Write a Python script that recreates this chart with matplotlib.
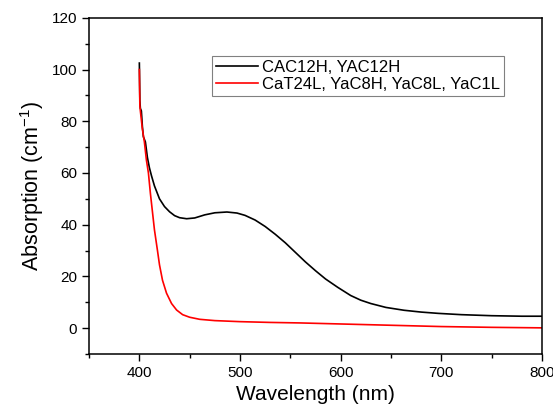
import matplotlib
matplotlib.use('Agg')
import matplotlib.pyplot as plt
from matplotlib.ticker import MultipleLocator

plt.rcParams['font.family'] = ['Liberation Sans', 'DejaVu Sans']
plt.rcParams['mathtext.fontset'] = 'custom'
plt.rcParams['mathtext.rm'] = 'Liberation Sans'
plt.rcParams['mathtext.it'] = 'Liberation Sans'

# black curve: CAC12H, YAC12H
wl_black = [400, 400.5, 401, 402, 403, 404, 406, 408, 410, 412, 415, 420, 425, 430,
            435, 440, 447, 455, 465, 475, 487, 497, 505, 515, 525, 535, 545, 555,
            565, 575, 585, 597, 610, 620, 630, 645, 663, 680, 697, 720, 750, 780, 800]
abs_black = [102.5, 88, 85, 84, 78, 74, 72, 66, 62, 59, 55, 50, 47, 45,
             43.5, 42.7, 42.3, 42.6, 43.8, 44.6, 44.9, 44.5, 43.6, 41.8, 39.3, 36.3, 33, 29.3,
             25.6, 22.2, 19, 15.8, 12.6, 10.8, 9.5, 8, 6.9, 6.2, 5.7, 5.2, 4.8, 4.6, 4.6]

# red curve: CaT24L, YaC8H, YaC8L, YaC1L
wl_red = [400, 400.5, 401, 403, 405, 407, 409, 411, 413, 415, 418, 420, 423, 427,
          432, 437, 443, 450, 460, 475, 500, 530, 560, 600, 650, 700, 750, 800]
abs_red = [100, 86, 84, 77, 72, 65, 60, 52, 45, 38, 30, 24.5, 18.5, 13.5,
           9.5, 7, 5.2, 4.2, 3.4, 2.9, 2.5, 2.2, 2.0, 1.6, 1.1, 0.6, 0.3, 0.1]

labels = ['CAC12H, YAC12H', 'CaT24L, YaC8H, YaC8L, YaC1L']

fig = plt.figure(figsize=(5.53, 4.05), dpi=100)
ax = fig.add_axes([0.161, 0.126, 0.819, 0.830])

ax.plot(wl_black, abs_black, color='black', lw=1.2, label=labels[0])
ax.plot(wl_red, abs_red, color='red', lw=1.2, label=labels[1])

ax.set_xlim(350, 800)
ax.set_ylim(-10, 120)
ax.xaxis.set_major_locator(MultipleLocator(100))
ax.xaxis.set_minor_locator(MultipleLocator(50))
ax.yaxis.set_major_locator(MultipleLocator(20))
ax.yaxis.set_minor_locator(MultipleLocator(10))
ax.tick_params(which='both', direction='out', top=False, right=False, labelsize=11, width=1)
ax.tick_params(which='major', length=5)
ax.tick_params(which='minor', length=3)
for s in ax.spines.values():
    s.set_linewidth(1.1)

ax.set_xlabel('Wavelength (nm)', fontsize=15)
ax.set_ylabel('Absorption (cm$^{-1}$)', fontsize=15.5)

leg = ax.legend(loc='upper left', bbox_to_anchor=(0.272, 0.887), fontsize=12,
                fancybox=False, framealpha=1, edgecolor='gray', handlelength=2.5,
                borderpad=0.25, labelspacing=0.1, handletextpad=0.25, borderaxespad=0)
leg.get_frame().set_linewidth(0.8)

fig.savefig('out.png', dpi=100)
